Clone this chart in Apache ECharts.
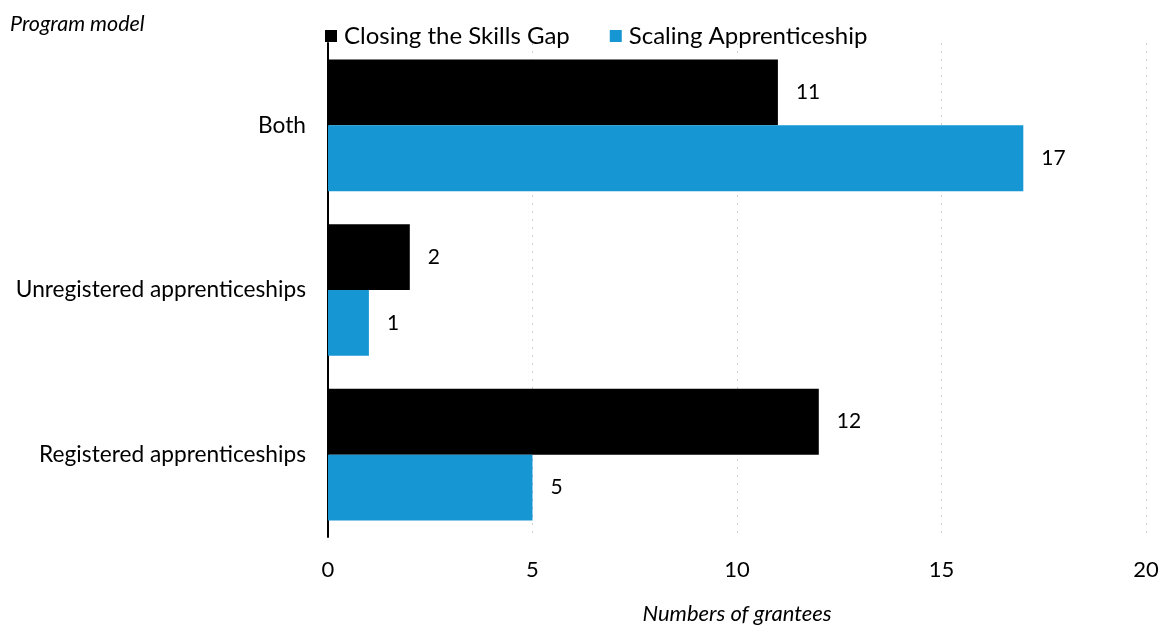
<!DOCTYPE html>
<html>
<head>
<meta charset="utf-8">
<script src="https://cdn.jsdelivr.net/npm/echarts@6/dist/echarts.min.js"></script>
<style>
  html, body { margin: 0; padding: 0; background: #fff; }
  #chart { width: 1166px; height: 625px; }
</style>
</head>
<body>
<div id="chart"></div>
<script>
// Program models, listed bottom to top on the category axis
const programModels = ['Registered apprenticeships', 'Unregistered apprenticeships', 'Both'];
const closingSkillsGap = [12, 2, 11];
const scalingApprenticeship = [5, 1, 17];
const seriesNames = ['Closing the Skills Gap', 'Scaling Apprenticeship'];
const xTicks = [0, 5, 10, 15, 20];

const FONT = 'Lato, "Noto Sans", sans-serif';
const chart = echarts.init(document.getElementById('chart'));

const labelStyle = {
  show: true,
  position: 'right',
  distance: 18,
  fontFamily: FONT,
  fontSize: 21,
  color: '#000'
};

chart.setOption({
  animation: false,
  textStyle: { fontFamily: FONT },
  title: {
    text: 'Program model',
    left: 5,
    top: 8,
    textStyle: { fontFamily: FONT, fontStyle: 'italic', fontWeight: 'normal', fontSize: 21.5, color: '#000' }
  },
  legend: {
    data: seriesNames,
    left: 320,
    top: 19,
    icon: 'rect',
    itemWidth: 12,
    itemHeight: 12,
    itemGap: 40,
    textStyle: { fontFamily: FONT, fontSize: 24, color: '#000', padding: [0, 0, 0, 2] }
  },
  grid: { left: 328, right: 20, top: 43, bottom: 88, containLabel: false, outerBoundsMode: 'none' },
  xAxis: {
    type: 'value',
    min: xTicks[0],
    max: xTicks[xTicks.length - 1],
    interval: 5,
    name: 'Numbers of grantees',
    nameLocation: 'middle',
    nameGap: 66,
    nameTextStyle: { fontFamily: FONT, fontStyle: 'italic', fontSize: 22, color: '#000' },
    axisLine: { show: false },
    axisTick: { show: false },
    axisLabel: { fontFamily: FONT, fontSize: 22, color: '#000', margin: 22 },
    splitLine: { show: true, lineStyle: { color: '#cfcfcf', type: [2, 6], width: 1 } }
  },
  yAxis: {
    type: 'category',
    data: programModels,
    axisLine: { show: true, lineStyle: { color: '#000', width: 2 } },
    axisTick: { show: false },
    axisLabel: { fontFamily: FONT, fontSize: 22.7, color: '#000', margin: 22 }
  },
  series: [
    {
      name: seriesNames[0],
      type: 'bar',
      data: closingSkillsGap,
      itemStyle: { color: '#000000' },
      barGap: '0%',
      barCategoryGap: '20%',
      label: labelStyle
    },
    {
      name: seriesNames[1],
      type: 'bar',
      data: scalingApprenticeship,
      itemStyle: { color: '#1696d2' },
      barGap: '0%',
      barCategoryGap: '20%',
      label: labelStyle
    }
  ]
});
</script>
</body>
</html>
